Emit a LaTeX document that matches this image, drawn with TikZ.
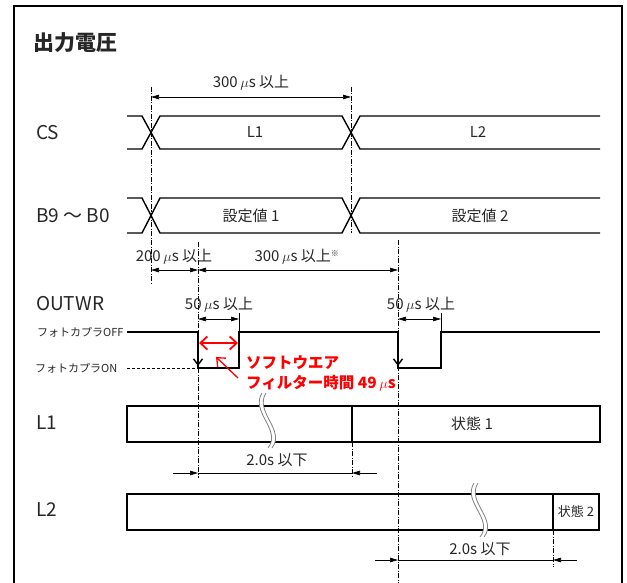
\documentclass[tikz,border=0pt]{standalone}
\usepackage{fontspec}
\setmainfont{Noto Sans CJK JP}
\usetikzlibrary{arrows.meta}
\newcommand{\us}{\,$\mu$s}
\newcommand{\wavebreak}[3]{%
    \fill[white] (#1,#2) .. controls (#1-12,#2+19) and (#1+20,#3-18) .. (#1+6,#3)
        -- (#1+10,#3) .. controls (#1+24,#3-18) and (#1-8,#2+19) .. (#1+4,#2) -- cycle;
    \draw[gray, line width=0.8pt] (#1,#2) .. controls (#1-12,#2+19) and (#1+20,#3-18) .. (#1+6,#3);
    \draw[gray, line width=0.8pt] (#1+4,#2) .. controls (#1-8,#2+19) and (#1+24,#3-18) .. (#1+10,#3);
}

\begin{document}
\begin{tikzpicture}[
        x=1pt, y=-1pt,
        font=\fontsize{15}{18}\selectfont,
        every node/.style={text=black!85},
        >={Triangle[length=8pt,width=4.5pt]},
        sig/.style={
            line width=1.4pt,
        },
        guide/.style={
            line width=0.6pt,
            dash pattern=on 5pt off 1.5pt on 1pt off 1.5pt,
        },
        dim/.style={
            line width=0.7pt,
        },
        rowlabel/.style={
            anchor=west,
            inner sep=0pt,
            font=\fontsize{19}{21}\selectfont,
        },
        pclabel/.style={
            anchor=west,
            inner sep=0pt,
            font=\fontsize{11}{12}\selectfont,
        },
        note/.style={
            anchor=west,
            inner sep=0pt,
            text=red,
            font=\fontsize{15.5}{18}\selectfont\bfseries,
        },
        RedArrow/.style={
            red,
            line width=1.8pt,
        },
    ]
    \useasboundingbox (0,0) rectangle (627,583);
    \clip (0,0) rectangle (627,583);

    % Frame and title
    \draw[line width=1.4pt] (14,6) rectangle (622,600);
    \node[anchor=west, inner sep=0pt, font=\fontsize{21}{24}\selectfont\bfseries] (title) at (33,43) {出力電圧};

    % Row labels
    \node[rowlabel] (cs) at (36,133) {CS};
    \node[rowlabel] (bus) at (36,216) {B9 ～ B0};
    \node[rowlabel] (outwr) at (36,304) {OUTWR};
    \node[pclabel] (pcoff) at (37,332) {フォトカプラOFF};
    \node[pclabel] (pcon) at (35,368) {フォトカプラON};
    \node[rowlabel] (l1) at (36,423) {L1};
    \node[rowlabel] (l2) at (36,510) {L2};

    % Guides
    \draw[guide] (151,87) -- (151,283);
    \draw[guide] (351,87) -- (351,233);
    \draw[guide] (198,242) -- (198,478);
    \draw[guide] (398,240) -- (398,583);
    \draw[guide] (352,442) -- (352,478);
    \draw[guide] (553,530) -- (553,567);

    % CS bus
    \draw[sig] (127,116) -- (142,116) -- (160,149) -- (342,149) -- (360,116) -- (600,116);
    \draw[sig] (127,149) -- (142,149) -- (160,116) -- (342,116) -- (360,149) -- (600,149);
    \node (csa) at (255,132) {L1};
    \node (csb) at (478,132) {L2};

    % B9 ~ B0 bus
    \draw[sig] (127,198) -- (142,198) -- (160,233) -- (342,233) -- (360,198) -- (600,198);
    \draw[sig] (127,233) -- (142,233) -- (160,198) -- (342,198) -- (360,233) -- (600,233);
    \node (set1) at (251,216) {設定値 1};
    \node (set2) at (480,216) {設定値 2};

    % OUTWR
    \draw[sig] (127,332) -- (198,332) -- (198,368) -- (239,368) -- (239,332)
        -- (398,332) -- (398,368) -- (441,368) -- (441,332) -- (600,332);
    \draw[line width=0.7pt, dash pattern=on 3pt off 2pt] (127,368) -- (198,368);
    \draw[sig, -{Straight Barb[length=6pt,width=9pt]}] (198,334) -- (198,366);
    \draw[sig, -{Straight Barb[length=6pt,width=9pt]}] (398,334) -- (398,366);
    \draw[dim] (239,313) -- (239,332);
    \draw[dim] (441,313) -- (441,332);

    % Dimensions
    \draw[dim, <->] (151,97) -- (351,97);
    \node (d300) at (251,83) {300\us\ 以上};
    \draw[dim, <->] (151,270) -- (198,270);
    \draw[dim, <->] (198,270) -- (398,270);
    \node (d200) at (174,257) {200\us\ 以上};
    \node (d300b) at (297,257) {300\us\ 以上\textsuperscript{\fontsize{8}{8}\selectfont ※}};
    \draw[dim, <->] (198,319) -- (239,319);
    \draw[dim, <->] (398,319) -- (441,319);
    \node (w50a) at (219,305) {50\us\ 以上};
    \node (w50b) at (421,305) {50\us\ 以上};

    % Software filter
    \draw[RedArrow, {Straight Barb[length=7pt,width=13pt]}-{Straight Barb[length=7pt,width=13pt]}] (199,343) -- (238,343);
    \draw[red, line width=1.3pt, -{Straight Barb[length=7pt,width=12pt]}] (238,378) -- (216,357);
    \node[note] (sw1) at (246,363) {ソフトウエア};
    \node[note] (sw2) at (246,383) {フィルター時間 49\us};

    % L1
    \draw[sig] (127,406) rectangle (600,442);
    \draw[sig] (352,406) -- (352,442);
    \wavebreak{262}{393}{448}
    \node (st1) at (472,424) {状態 1};
    \draw[dim] (198,473) -- (352,473);
    \draw[dim, ->] (173,473) -- (198,473);
    \draw[dim, ->] (377,473) -- (352,473);
    \node (t2a) at (277,460) {2.0s 以下};

    % L2
    \draw[sig] (127,494) rectangle (599,530);
    \draw[sig] (553,494) -- (553,530);
    \wavebreak{474}{483}{537}
    \node[font=\fontsize{13}{15}\selectfont] (st2) at (576,512) {状態 2};
    \draw[dim] (398,560) -- (553,560);
    \draw[dim, ->] (375,560) -- (398,560);
    \draw[dim, ->] (577,560) -- (553,560);
    \node (t2b) at (480,549) {2.0s 以下};

\end{tikzpicture}
\end{document}
